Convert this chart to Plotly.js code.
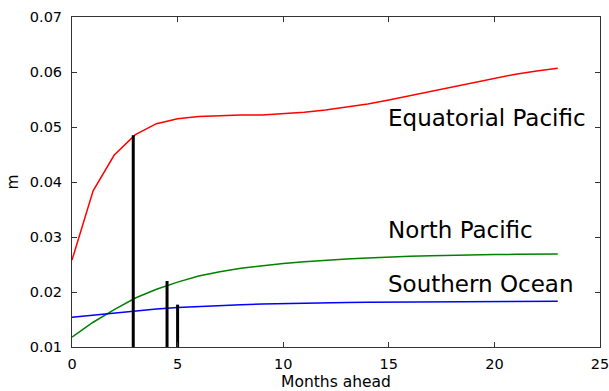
<!DOCTYPE html>
<html>
<head>
<meta charset="utf-8">
<script src="https://cdn.plot.ly/plotly-3.0.1.min.js"></script>
<style>html,body{margin:0;padding:0;background:#fff;}#chart{width:609px;height:391px;}</style>
</head>
<body>
<div id="chart"></div>
<script>
// Months ahead
const months = [0,1,2,3,4,5,6,7,8,9,10,11,12,13,14,15,16,17,18,19,20,21,22,23];
// Equatorial Pacific (red)
const equatorialPacific = [0.0258,0.0384,0.0449,0.0486,0.0506,0.0515,0.0519,0.0521,0.0522,0.0522,0.0524,0.0527,0.0531,0.0536,0.0542,0.0549,0.0557,0.0565,0.0573,0.0581,0.0589,0.0596,0.0602,0.0607];
// North Pacific (green)
const northPacific = [0.0118,0.0145,0.0168,0.0189,0.0205,0.0218,0.0229,0.0237,0.0243,0.0248,0.0252,0.0255,0.0258,0.0260,0.0262,0.0264,0.0265,0.0266,0.0267,0.02675,0.0268,0.02685,0.0269,0.0269];
// Southern Ocean (blue)
const southernOcean = [0.0154,0.0158,0.0162,0.0166,0.0169,0.0172,0.0174,0.0176,0.0177,0.0178,0.0179,0.01797,0.01803,0.01808,0.01812,0.01815,0.01818,0.0182,0.01823,0.01826,0.01828,0.0183,0.0183,0.0183];
// Black vertical bars
const barX = [2.9, 4.5, 5.0];
const barTop = [0.0485, 0.0220, 0.0177];
const barBase = 0.01;
// Labels
const labelNames = ["Equatorial Pacific", "North Pacific", "Southern Ocean"];
const labelX = [14.88, 14.88, 14.88];
const labelY = [0.05155, 0.03136, 0.0215];
const xTicks = [0,5,10,15,20,25];
const yTicks = [0.01,0.02,0.03,0.04,0.05,0.06,0.07];

const segX = [], segY = [];
barX.forEach((x,i)=>{ segX.push(x,x,null); segY.push(barBase, barTop[i], null); });

const font = "DejaVu Sans, sans-serif";
const traces = [
  {x: months, y: equatorialPacific, mode: 'lines', line: {color: '#ff0000', width: 1.5}},
  {x: months, y: northPacific, mode: 'lines', line: {color: '#008000', width: 1.5}},
  {x: months, y: southernOcean, mode: 'lines', line: {color: '#0000ff', width: 1.5}},
  {x: segX, y: segY, mode: 'lines', line: {color: '#000000', width: 3}}
];
const layout = {
  width: 609, height: 391,
  margin: {l: 72, r: 9, t: 17, b: 44},
  showlegend: false,
  paper_bgcolor: '#fff', plot_bgcolor: '#fff',
  font: {family: font, color: '#000', size: 14.5},
  xaxis: {range: [0, 25], tickvals: xTicks, ticktext: xTicks.map(String),
    showgrid: false, zeroline: false, showline: true, linecolor: '#333', linewidth: 1,
    mirror: 'ticks', ticks: 'inside', ticklen: 5, tickcolor: '#333',
    ticklabelstandoff: 4, ticklabeloverflow: 'allow',
    title: {text: 'Months ahead', font: {size: 15.5}, standoff: 8}},
  yaxis: {range: [0.01, 0.07], tickvals: yTicks, ticktext: yTicks.map(v=>v.toFixed(2)),
    showgrid: false, zeroline: false, showline: true, linecolor: '#333', linewidth: 1,
    mirror: 'ticks', ticks: 'inside', ticklen: 5, tickcolor: '#333',
    ticklabelstandoff: 6, ticklabeloverflow: 'allow',
    title: {text: 'm', font: {size: 15.5}, standoff: 7}},
  annotations: labelNames.map((t,i)=>({x: labelX[i], y: labelY[i], xref: 'x', yref: 'y',
    text: t, showarrow: false, xanchor: 'left', yanchor: 'middle', font: {size: 23, family: font, color: '#000'}}))
};
Plotly.newPlot('chart', traces, layout, {displayModeBar: false, staticPlot: true});
</script>
</body>
</html>
